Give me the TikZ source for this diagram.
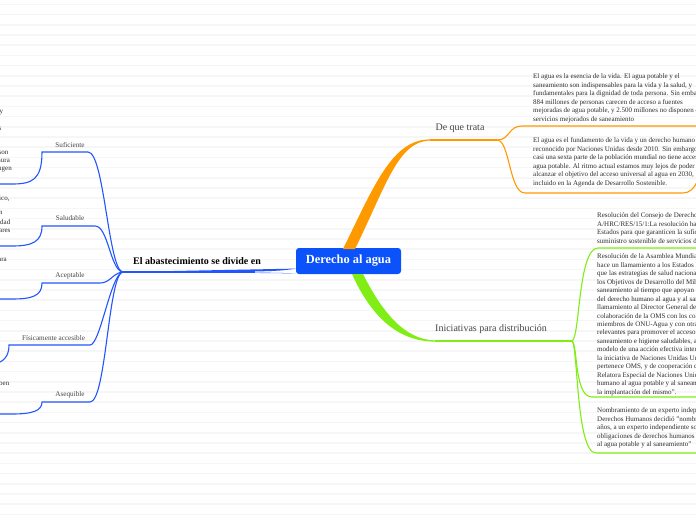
\documentclass[tikz,border=0pt]{standalone}
\usepackage{fontspec}
\setmainfont{Liberation Serif}
\definecolor{rootblue}{RGB}{12,82,250}
\definecolor{bl}{RGB}{35,85,255}
\definecolor{org}{RGB}{255,153,0}
\definecolor{grn}{RGB}{128,238,20}
\definecolor{txt}{RGB}{45,45,45}
\definecolor{labgray}{RGB}{70,70,70}
\definecolor{stripe}{RGB}{246,246,246}
\tikzset{
  rootnode/.style={fill=rootblue, rounded corners=3pt, minimum width=105pt, minimum height=26pt,
    text=white, font=\fontsize{12.4}{13}\selectfont\bfseries, inner sep=0},
  smalltext/.style={anchor=north west, inner sep=0, align=left, font=\fontsize{7}{8.45}\selectfont, text=txt},
  frag/.style={anchor=west, inner sep=0, font=\fontsize{7}{8}\selectfont, text=txt},
  leftlab/.style={inner sep=0, font=\fontsize{7.2}{8}\selectfont, text=labgray},
  midlab/.style={inner sep=0, font=\fontsize{10}{11}\selectfont, text=labgray},
  mainlab/.style={inner sep=0, font=\fontsize{10}{11}\selectfont\bfseries, text=black},
  bline/.style={draw=bl, line width=1.1pt},
  oline/.style={draw=org, line width=1.1pt},
  gline/.style={draw=grn, line width=1.1pt},
}
\begin{document}
\begin{tikzpicture}[x=1pt,y=-1pt]
\useasboundingbox (0,0) rectangle (696,520);
\clip (0,0) rectangle (696,520);
\fill[white] (0,0) rectangle (696,520);
\foreach \k in {0,...,50} \draw[stripe, line width=1.6pt] (0,4.3+10.2*\k) -- (696,4.3+10.2*\k);

% root
\node[rootnode] (root) at (348.5,261) {Derecho al agua};

% ---------------- blue side
\coordinate (hub) at (122,272);
\coordinate (rootw) at (296,271);
\fill[bl] (rootw) ++(0,-2.4) .. controls (285,270.4) and (275,271.2) .. (255,271.4) -- (hub) ++(0,-0.55)
  -- ++(0,1.1) -- (255,272.6) .. controls (275,272.7) and (285,273) .. (296,273.4) -- cycle;
\draw[bline] (hub) -- (255,272);
\node[mainlab] (abast) at (197,261) {El abastecimiento se divide en};

\coordinate (sufR) at (88,152);   \coordinate (sufL) at (42,152);
\coordinate (salR) at (95,226);   \coordinate (salL) at (42,226);
\coordinate (aceR) at (100,283);  \coordinate (aceL) at (42,283);
\coordinate (fisR) at (90,345);   \coordinate (fisL) at (9,345);
\coordinate (aseR) at (90,402);   \coordinate (aseL) at (42,402);

\draw[bline] (hub) .. controls (108,265) and (104,152) .. (sufR) -- (sufL)
  .. controls (42,180) and (32,184) .. (12,184) -- (-5,184);
\draw[bline] (hub) .. controls (110,268) and (108,226) .. (salR) -- (salL)
  .. controls (42,242) and (32,246) .. (12,246) -- (-5,246);
\draw[bline] (hub) .. controls (112,274) and (110,283) .. (aceR) -- (aceL)
  .. controls (42,296) and (32,299) .. (12,299) -- (-5,299);
\draw[bline] (hub) .. controls (110,278) and (100,345) .. (fisR) -- (fisL)
  .. controls (9,356) and (4,362) .. (-6,364);
\draw[bline] (hub) .. controls (108,280) and (106,402) .. (aseR) -- (aseL)
  .. controls (42,411) and (32,414) .. (12,414) -- (-5,414);

\node[leftlab] (suf) at (70,145) {Suficiente};
\node[leftlab] (sal) at (70,218.5) {Saludable};
\node[leftlab] (ace) at (70,276) {Aceptable};
\node[leftlab] (fis) at (53.5,338) {Físicamente accesible};
\node[leftlab] (ase) at (70,395) {Asequible};

\node[frag] (f1) at (-0.6,113) {y};
\node[frag] (f2) at (-1.5,129) {s};
\node[frag] (f3) at (-1.5,153) {son};
\node[frag] (f4) at (-2,161) {sura};
\node[frag] (f5) at (-2,169) {ugen};
\node[frag] (f6) at (-1,199) {ico,};
\node[frag] (f7) at (-1,213) {n};
\node[frag] (f8) at (-2,222) {idad};
\node[frag] (f9) at (-1,230.7) {ares};
\node[frag] (f10) at (-2,260) {ara};
\node[frag] (f11) at (-1,383) {ben};

% ---------------- orange side
\coordinate (oend) at (430,140);
\coordinate (obr) at (497,140);
\fill[org] (343,249) .. controls (374,186) and (392,139.3) .. (430,139.4) -- (430,140.6)
  .. controls (398,141) and (386,186) .. (355,249) -- cycle;
\draw[oline] (oend) -- (obr);
\node[midlab] (dq) at (460,128.5) {De que trata};
\draw[oline] (obr) .. controls (510,140) and (508,126) .. (522,126) -- (700,126);
\draw[oline] (obr) .. controls (510,140) and (509,193) .. (525,193) -- (683,193)
  .. controls (690,193) and (694,188) .. (697,182);

\node[smalltext] (o1) at (533,73.8) {El agua es la esencia de la vida. El agua potable y el\\
saneamiento son indispensables para la vida y la salud, y\\
fundamentales para la dignidad de toda persona. Sin embargo,\\
884 millones de personas carecen de acceso a fuentes\\
mejoradas de agua potable, y 2.500 millones no disponen de\\
servicios mejorados de saneamiento};
\node[smalltext] (o2) at (533,137.8) {El agua es el fundamento de la vida y un derecho humano\\
reconocido por Naciones Unidas desde 2010. Sin embargo,\\
casi una sexta parte de la población mundial no tiene acceso\\
agua potable. Al ritmo actual estamos muy lejos de poder\\
alcanzar el objetivo del acceso universal al agua en 2030,\\
incluido en la Agenda de Desarrollo Sostenible.};

% ---------------- green side
\coordinate (gend) at (435,341);
\coordinate (gbr) at (572,341);
\fill[grn] (352,274) .. controls (370,314) and (396,341.5) .. (435,341.6) -- (435,340.4)
  .. controls (404,340) and (381,310) .. (363,274) -- cycle;
\draw[gline] (gend) -- (gbr);
\node[midlab] (ini) at (491,329) {Iniciativas para distribución};
\draw[gline] (gbr) .. controls (580,338) and (578,248) .. (598,248) -- (700,248);
\draw[gline] (gbr) .. controls (578,345) and (574,397) .. (592,397) -- (700,397);
\draw[gline] (gbr) .. controls (578,345) and (576,453) .. (596,453) -- (700,453);

\node[smalltext] (g1) at (597,212.8) {Resolución del Consejo de Derechos\\
A/HRC/RES/15/1:La resolución hace\\
Estados para que garanticen la suficiencia\\
suministro sostenible de servicios de};
\node[smalltext] (g2) at (597,253.8) {Resolución de la Asamblea Mundial\\
hace un llamamiento a los Estados Miembros\\
que las estrategias de salud nacionales\\
los Objetivos de Desarrollo del Milenio\\
saneamiento al tiempo que apoyan la\\
del derecho humano al agua y al saneamiento\\
llamamiento al Director General de\\
colaboración de la OMS con los colaboradores\\
miembros de ONU-Agua y con otras\\
relevantes para promover el acceso\\
saneamiento e higiene saludables, a\\
modelo de una acción efectiva internacional\\
la iniciativa de Naciones Unidas Unidos\\
pertenece OMS, y de cooperación de\\
Relatora Especial de Naciones Unidas\\
humano al agua potable y al saneamiento\\
la implantación del mismo".};
\node[smalltext] (g3) at (597,407.8) {Nombramiento de un experto independiente\\
Derechos Humanos decidió "nombrar\\
años, a un experto independiente sobre\\
obligaciones de derechos humanos\\
al agua potable y al saneamiento"};
\end{tikzpicture}
\end{document}
